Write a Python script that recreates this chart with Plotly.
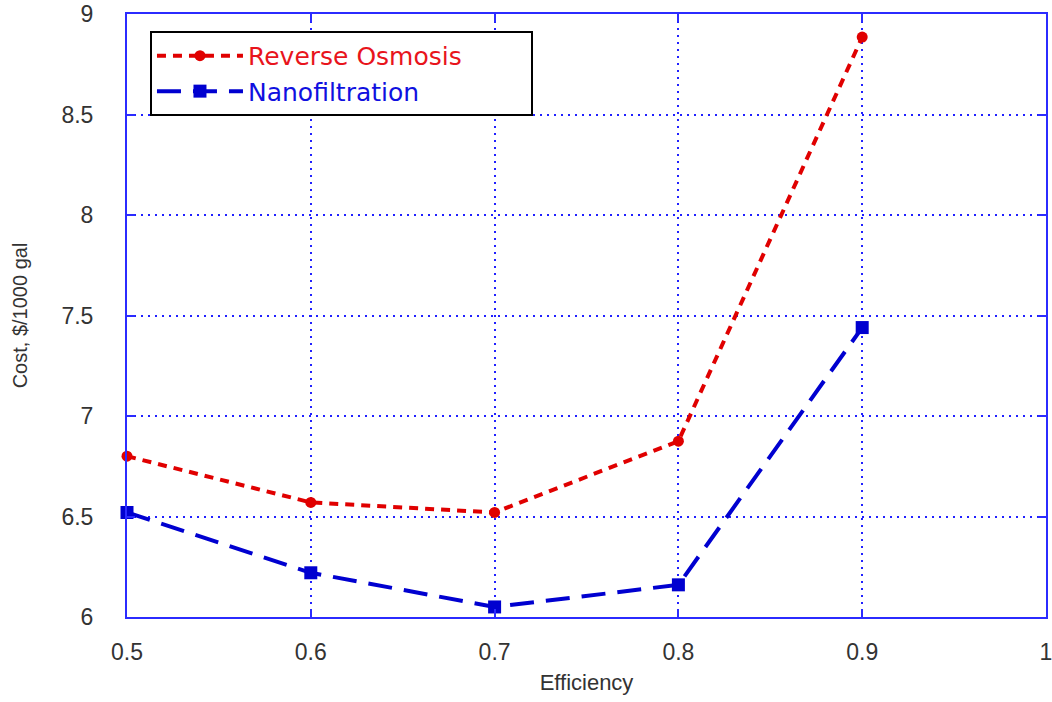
import plotly.graph_objects as go

efficiency = [0.5, 0.6, 0.7, 0.8, 0.9]
ro_cost = [6.80, 6.57, 6.52, 6.875, 8.885]
nf_cost = [6.52, 6.22, 6.05, 6.16, 7.44]
x_ticks = [0.5, 0.6, 0.7, 0.8, 0.9, 1.0]
x_ticklabels = ["0.5", "0.6", "0.7", "0.8", "0.9", "1"]
y_ticks = [6, 6.5, 7, 7.5, 8, 8.5, 9]
y_ticklabels = ["6", "6.5", "7", "7.5", "8", "8.5", "9"]

FONT = "Liberation Sans, Arial, sans-serif"
PAD = "&nbsp;" * 8

fig = go.Figure()
fig.add_trace(go.Scatter(
    x=efficiency, y=ro_cost, mode="lines+markers", cliponaxis=False,
    name="<span style='color:#e8141c'>Reverse Osmosis</span>" + PAD,
    line=dict(color="#e00000", width=4, dash="9px,7px"),
    marker=dict(symbol="circle", size=11, color="#e00000"),
))
fig.add_trace(go.Scatter(
    x=efficiency, y=nf_cost, mode="lines+markers", cliponaxis=False,
    name="<span style='color:#1010e0'>Nanofiltration</span>",
    line=dict(color="#0000d0", width=4, dash="24px,12px"),
    marker=dict(symbol="square", size=13, color="#0000d0"),
))

axis_common = dict(
    showline=True, linecolor="#2b2bff", linewidth=2, mirror="ticks",
    ticks="inside", ticklen=8, tickcolor="#2b2bff", tickwidth=2,
    showgrid=True, gridcolor="#2020ff", gridwidth=1.5, griddash="2px,5px",
    zeroline=False, automargin=False, ticklabeloverflow="allow",
    tickfont=dict(family=FONT, size=23, color="#333333"),
)

fig.update_layout(
    width=1052, height=702,
    margin=dict(l=127, r=6, t=14, b=85),
    paper_bgcolor="white", plot_bgcolor="white",
    font=dict(family=FONT, color="#333333"),
    xaxis=dict(range=[0.5, 1.0], tickvals=x_ticks, ticktext=x_ticklabels,
               ticklabelstandoff=13,
               title=dict(text="Efficiency", font=dict(family=FONT, size=22, color="#333333"), standoff=11),
               **axis_common),
    yaxis=dict(range=[6, 9], tickvals=y_ticks, ticktext=y_ticklabels,
               ticklabelstandoff=27,
               title=dict(text="Cost, $/1000 gal", font=dict(family=FONT, size=20, color="#333333"), standoff=28),
               **axis_common),
    legend=dict(x=0.025, y=0.972, xanchor="left", yanchor="top",
                bgcolor="white", bordercolor="black", borderwidth=2,
                font=dict(family="DejaVu Sans, sans-serif", size=25),
                itemwidth=86, tracegroupgap=0),
    showlegend=True,
)

fig.write_html("out.html", config={"displayModeBar": False},
               post_script="document.body.style.margin='0';")
